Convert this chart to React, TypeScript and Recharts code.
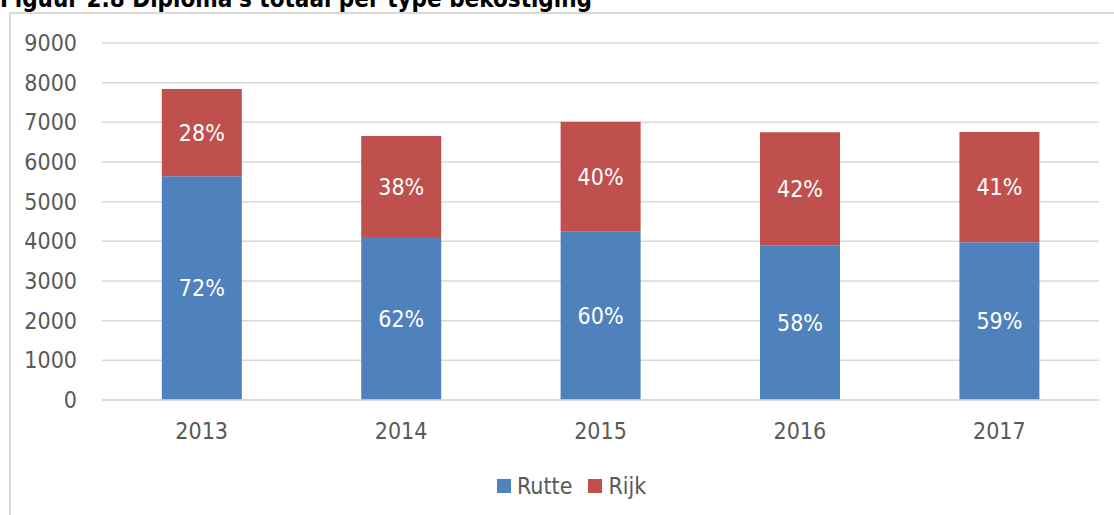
import React from 'react';
import { BarChart, Bar, XAxis, YAxis, CartesianGrid, Legend, LabelList } from 'recharts';

const years = ['2013', '2014', '2015', '2016', '2017'];
const rutte = [5640, 4110, 4240, 3900, 3980];
const rijk = [2200, 2545, 2776, 2848, 2776];
const rutteLabels = ['72%', '62%', '60%', '58%', '59%'];
const rijkLabels = ['28%', '38%', '40%', '42%', '41%'];
const seriesOrder = ['Rutte', 'Rijk'];
const yTicks = [0, 1000, 2000, 3000, 4000, 5000, 6000, 7000, 8000, 9000];

const data = years.map((y, i) => ({
  year: y,
  Rutte: rutte[i],
  Rijk: rijk[i],
  rutteLabel: rutteLabels[i],
  rijkLabel: rijkLabels[i],
}));

const FONT = "'DejaVu Sans Condensed', 'DejaVu Sans', sans-serif";
const BLUE = '#4f81bd';
const RED = '#c0504d';
const GREY = '#595959';
const FS = 23;

const LegendContent = (props: any) => {
  const items = [...(props.payload || [])].sort(
    (a: any, b: any) => seriesOrder.indexOf(a.value) - seriesOrder.indexOf(b.value)
  );
  return (
    <div style={{ display: 'flex', alignItems: 'center', height: 24, fontFamily: FONT, fontSize: FS, lineHeight: '24px', color: GREY }}>
      {items.map((it: any, i: number) => (
        <div key={i} style={{ display: 'flex', alignItems: 'center', marginRight: i === 0 ? 16 : 0 }}>
          <div style={{ width: 14, height: 14, background: it.color, marginRight: 6 }} />
          <span>{it.value}</span>
        </div>
      ))}
    </div>
  );
};

export default function App() {
  return (
    <div style={{ position: 'absolute', left: 0, top: 0, width: 1114, height: 515, overflow: 'hidden', background: '#fff' }}>
      <div
        style={{
          position: 'absolute',
          left: 0,
          top: -13,
          fontFamily: FONT,
          fontWeight: 'bold',
          fontSize: 24,
          lineHeight: '24px',
          whiteSpace: 'nowrap',
          color: '#000',
        }}
      >
        Figuur 2.8 Diploma's totaal per type bekostiging
      </div>
      <div
        style={{
          position: 'absolute',
          left: 9,
          top: 12,
          width: 1200,
          height: 600,
          border: '2px solid #d9d9d9',
          boxSizing: 'border-box',
        }}
      />
      <div style={{ position: 'absolute', left: 0, top: 0 }}>
        <BarChart
          width={1114}
          height={515}
          data={data}
          margin={{ top: 43, right: 15, bottom: 61, left: 0 }}
          barCategoryGap="30%"
        >
          <CartesianGrid vertical={false} stroke="#d9d9d9" strokeWidth={1.5} />
          <XAxis
            dataKey="year"
            tickLine={false}
            axisLine={{ stroke: '#d9d9d9', strokeWidth: 1.5 }}
            tickSize={0}
            tickMargin={23}
            tick={{ fill: GREY, fontSize: FS, fontFamily: FONT }}
          />
          <YAxis
            width={102}
            domain={[0, 9000]}
            ticks={yTicks}
            interval={0}
            tickLine={false}
            axisLine={false}
            tickSize={0}
            tickMargin={25}
            tick={{ fill: GREY, fontSize: FS, fontFamily: FONT }}
          />
          <Legend
            content={<LegendContent />}
            wrapperStyle={{ left: 497, top: 474, width: 'auto', height: 24 }}
          />
          <Bar dataKey="Rutte" stackId="a" fill={BLUE} isAnimationActive={false}>
            <LabelList dataKey="rutteLabel" position="center" fill="#ffffff" fontSize={FS} fontFamily={FONT} />
          </Bar>
          <Bar dataKey="Rijk" stackId="a" fill={RED} isAnimationActive={false}>
            <LabelList dataKey="rijkLabel" position="center" fill="#ffffff" fontSize={FS} fontFamily={FONT} />
          </Bar>
        </BarChart>
      </div>
    </div>
  );
}
